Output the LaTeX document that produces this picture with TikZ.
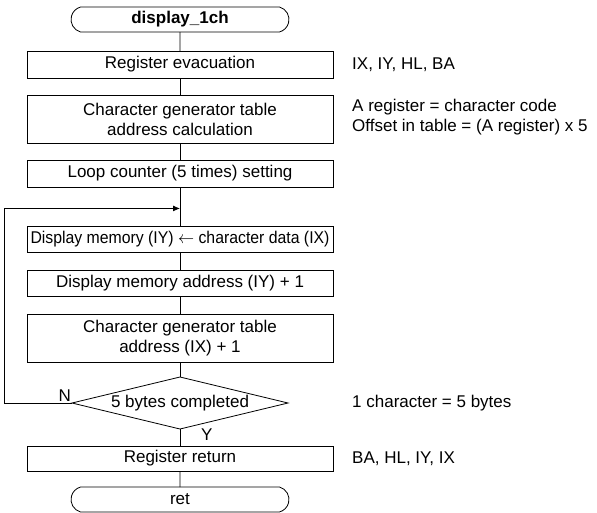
\documentclass[tikz,border=0pt]{standalone}
\usepackage{fontspec}
\setmainfont{Liberation Sans}
\usetikzlibrary{positioning,calc,shapes.geometric,shapes.misc,arrows.meta}
\tikzset{
  % --- flow chart parts ---
  procbox/.style={draw, line width=0.8pt, rectangle, align=center,
                  minimum width=306pt, minimum height=27pt, inner sep=0pt,
                  outer sep=0pt, font=\fontsize{17}{20}\selectfont},
  procbox2/.style={procbox, minimum height=48pt},
  termbox/.style={draw, line width=0.8pt, rounded rectangle,
                  rounded rectangle arc length=150, minimum width=218pt,
                  minimum height=25pt, inner sep=0pt, outer sep=0pt,
                  font=\fontsize{17}{20}\selectfont},
  decbox/.style={draw, line width=0.8pt, diamond, aspect=4.15, inner sep=0pt,
                 outer sep=0pt, minimum width=216pt, minimum height=52pt,
                 font=\fontsize{17}{20}\selectfont},
  notetext/.style={align=left, inner sep=0pt, font=\fontsize{17}{20}\selectfont},
  flowline/.style={line width=0.8pt},
  loopflow/.style={line width=0.8pt, -{Latex[length=7pt,width=6pt]}},
}
\begin{document}
\begin{tikzpicture}[x=1pt, y=-1pt, node distance=17pt]
  \useasboundingbox (0,0) rectangle (597,512);
  \node[termbox, font=\fontsize{17}{20}\selectfont\bfseries] (start) at (180,19.5) {display\_1ch};
  \node[procbox, below=19pt of start] (regev) {Register evacuation};
  \node[procbox2, below=of regev] (cgcalc) {Character generator table\\address calculation};
  \node[procbox, below=of cgcalc] (loopset) {Loop counter (5 times) setting};
  \node[procbox, minimum height=26pt, below=39pt of loopset] (dmset)
        {\scalebox{0.93}[1]{Display memory (IY) $\leftarrow$ character data (IX)}};
  \node[procbox, minimum height=26pt, below=18pt of dmset] (dminc) {Display memory address (IY) + 1};
  \node[procbox2, below=18pt of dminc] (cginc) {Character generator table\\address (IX) + 1};
  \node[decbox, below=15pt of cginc] (dec) {5 bytes completed};
  \node[procbox, minimum height=25pt, below=of dec] (regret) {Register return};
  \node[termbox, below=16pt of regret] (ret) {ret};
  % --- notes on the right ---
  \node[notetext, right=19pt of regev] (nregev) {IX, IY, HL, BA};
  \node[notetext, right=19pt of cgcalc, yshift=2pt] (ncgcalc)
        {A register = character code\\Offset in table = (A register) x 5};
  \node[notetext, anchor=west] (ndec) at (nregev.west |- dec) {1 character = 5 bytes};
  \node[notetext, right=19pt of regret] (nregret) {BA, HL, IY, IX};
  % --- branch labels ---
  \node[notetext, anchor=south east, inner sep=1pt] (nlab) at (dec.west) {N};
  \node[notetext, anchor=north west] (ylab) at ([xshift=21pt]dec.south) {Y};
  % --- connectors ---
  \coordinate (join) at ($(loopset.south)!0.55!(dmset.north)$);
  \draw[flowline] (start) -- (regev);
  \draw[flowline] (regev) -- (cgcalc);
  \draw[flowline] (cgcalc) -- (loopset);
  \draw[flowline] (loopset) -- (dmset);
  \draw[flowline] (dmset) -- (dminc);
  \draw[flowline] (dminc) -- (cginc);
  \draw[flowline] (cginc) -- (dec);
  \draw[flowline] (dec) -- (regret);
  \draw[flowline] (regret) -- (ret);
  \draw[loopflow] (dec.west) -- ++(-68,0) |- (join);
\end{tikzpicture}
\end{document}
